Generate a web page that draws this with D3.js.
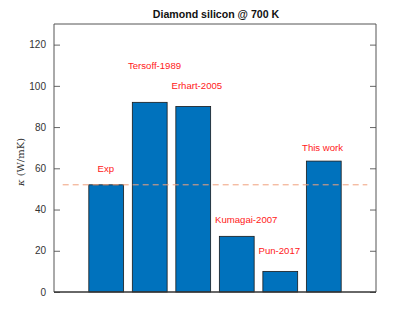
<!DOCTYPE html>
<html>
<head>
<meta charset="utf-8">
<script src="https://cdn.jsdelivr.net/npm/d3@7"></script>
<style>
  body { margin: 0; background: #fff; }
  svg { display: block; font-family: "Liberation Sans", Arial, sans-serif; }
</style>
</head>
<body>
<div id="chart"></div>
<script>
// 数据
var categories = ["Exp", "Tersoff-1989", "Erhart-2005", "Kumagai-2007", "Pun-2017", "This work"];
var kappaValues = [52, 92, 90, 27, 10, 63.5];
var expValue = 52;
var labelX = [0.8, 1.5, 2.5, 3.5, 4.5, 5.5];
var labelY = [60, 110, 100, 35, 20, 70];
var yTicks = [0, 20, 40, 60, 80, 100, 120];

var width = 415, height = 328;
var margin = { top: 24, right: 39, bottom: 36, left: 54 };
var plotWidth = width - margin.left - margin.right;
var plotHeight = height - margin.top - margin.bottom;

var svg = d3.select("#chart").append("svg")
  .attr("width", width)
  .attr("height", height);

var plot = svg.append("g")
  .attr("transform", `translate(${margin.left}, ${margin.top})`);

// 比例尺
var xScale = d3.scaleLinear().domain([-0.2, 7.2]).range([0, plotWidth]);
var yScale = d3.scaleLinear().domain([0, 130]).range([plotHeight, 0]);
var barW = xScale(0.8) - xScale(0);

var barData = categories.map((c, i) => ({ name: c, x: i + 1, v: kappaValues[i], lx: labelX[i], ly: labelY[i] }));

// 柱子
plot.selectAll(".bar")
  .data(barData)
  .join("rect")
  .attr("class", "bar")
  .attr("x", d => xScale(d.x) - barW / 2)
  .attr("y", d => yScale(d.v))
  .attr("width", barW)
  .attr("height", d => yScale(0) - yScale(d.v))
  .attr("fill", "#0072BD")
  .attr("stroke", "#1a1a1a")
  .attr("stroke-width", 0.8);

// 实验值虚线
plot.append("line")
  .attr("x1", xScale(0))
  .attr("x2", xScale(7))
  .attr("y1", yScale(expValue))
  .attr("y2", yScale(expValue))
  .attr("stroke", "#F0A07C")
  .attr("stroke-width", 1)
  .attr("stroke-dasharray", "6,4");

// 标签
plot.selectAll(".lab")
  .data(barData)
  .join("text")
  .attr("class", "lab")
  .attr("x", d => xScale(d.lx))
  .attr("y", d => yScale(d.ly))
  .attr("dy", "0.35em")
  .attr("fill", "#FF2020")
  .attr("font-size", "9.6px")
  .text(d => d.name);

// 坐标轴
var yAxisL = d3.axisLeft(yScale).tickValues(yTicks).tickSizeInner(-6).tickSizeOuter(0).tickPadding(8);
var yAxisR = d3.axisRight(yScale).tickValues(yTicks).tickSizeInner(-6).tickSizeOuter(0).tickFormat("");

var gl = plot.append("g").call(yAxisL);
var gr = plot.append("g").attr("transform", `translate(${plotWidth},0)`).call(yAxisR);
[gl, gr].forEach(g => {
  g.select(".domain").remove();
  g.selectAll("line").attr("stroke", "#666");
  g.selectAll("text").attr("fill", "#333").attr("font-size", "10px")
    .attr("font-family", "'Liberation Sans', Arial, sans-serif");
});

// 边框
plot.append("path")
  .attr("d", `M0,0V${plotHeight}H${plotWidth}V0Z`)
  .attr("fill", "none")
  .attr("stroke", "#555")
  .attr("stroke-width", 1);
plot.append("line")
  .attr("x1", 0).attr("x2", plotWidth)
  .attr("y1", plotHeight).attr("y2", plotHeight)
  .attr("stroke", "#262626");

// 标题
svg.append("text")
  .attr("x", margin.left + plotWidth / 2 + 1)
  .attr("y", 18)
  .attr("text-anchor", "middle")
  .attr("font-weight", "bold")
  .attr("font-size", "10.6px")
  .attr("fill", "#111")
  .text("Diamond silicon @ 700 K");

// y轴标签
var yl = svg.append("text")
  .attr("transform", `translate(24, ${margin.top + plotHeight / 2 + 4}) rotate(-90)`)
  .attr("text-anchor", "middle")
  .attr("font-family", "'DejaVu Serif', serif")
  .attr("font-size", "10px")
  .attr("fill", "#333");
yl.append("tspan").attr("font-style", "italic").text("κ");
yl.append("tspan").text(" (W/mK)");
</script>
</body>
</html>
